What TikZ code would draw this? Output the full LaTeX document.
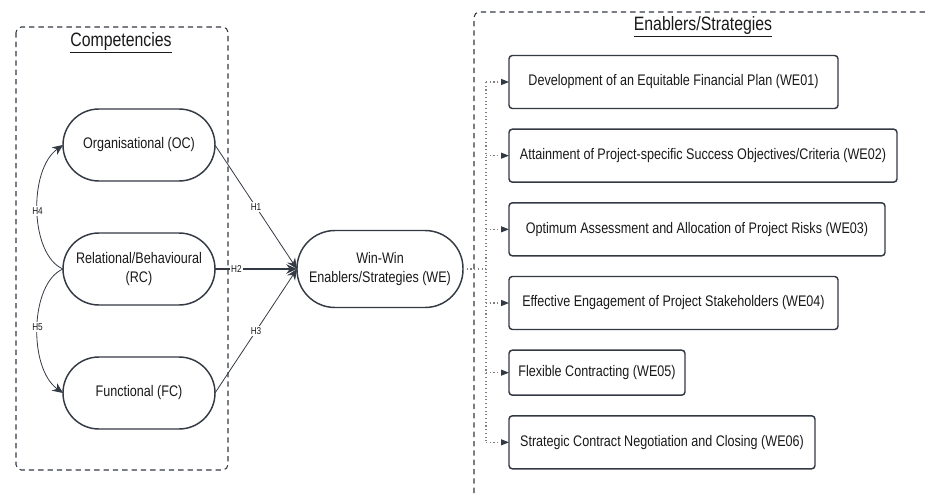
\documentclass[tikz,border=0pt]{standalone}
\usepackage{fontspec}
\setmainfont{Liberation Sans}[FakeStretch=0.82]
\usetikzlibrary{positioning,arrows.meta}
\definecolor{edgegray}{RGB}{52,58,68}
\definecolor{dotgray}{RGB}{128,128,128}
\tikzset{comp/.style={draw=edgegray,line width=1.1pt,outer sep=0pt,rounded corners=27pt,minimum width=114pt,minimum height=54pt,align=center,text=black!90,font=\fontsize{11.5}{14}\selectfont},
	 wenode/.style={comp,rounded corners=28.5pt,minimum width=124.5pt,minimum height=57.75pt},
	 wbox/.style={draw=edgegray,line width=1.1pt,outer sep=0pt,rounded corners=2.5pt,minimum height=39.75pt,text=black!90,font=\fontsize{11.5}{14}\selectfont},
	 title/.style={text=black!90,font=\fontsize{14.5}{17}\selectfont},
	 grp/.style={draw=edgegray,line width=0.8pt,dash pattern=on 4pt off 3pt,rounded corners=4pt},
	 hyp/.style={draw=edgegray,line width=0.6pt,-{Stealth[length=8pt,width=7pt]}},
	 hlab/.style={fill=white,inner sep=1pt,text=black!90,font=\fontsize{7.5}{8}\selectfont},
	 feed/.style={draw=dotgray,dotted,line width=0.8pt},
	 node distance = 39pt
	 }
\begin{document}
\begin{tikzpicture}[x=0.75pt,y=-0.75pt]
	\useasboundingbox (0,0) rectangle (925,493);
	% groups
	\draw[grp] (16,27) rectangle (228,470);
	\draw[grp] (474,493) -- (474,12) -- (925,12);
	\node[title] (comptitle) at (121,43) {\underline{Competencies}};
	\node[title] (enabtitle) at (703,27) {\underline{Enablers/Strategies}};
	% competencies
	\node[comp] (oc) at (139,145) {Organisational (OC)};
	\node[comp] (rc) [below=of oc] {Relational/Behavioural\\(RC)};
	\node[comp] (fc) [below=of rc] {Functional (FC)};
	\node[wenode] (we) [right=61.5pt of rc] {Win-Win\\Enablers/Strategies (WE)};
	% enablers
	\node[wbox,minimum width=246.75pt,anchor=west] (we1) at (509,82) {Development of an Equitable Financial Plan (WE01)};
	\node[wbox,minimum width=291pt] (we2) [below=15.5pt of we1.south west,anchor=north west] {Attainment of Project-specific Success Objectives/Criteria (WE02)};
	\node[wbox,minimum width=282pt] (we3) [below=15.5pt of we2.south west,anchor=north west] {Optimum Assessment and Allocation of Project Risks (WE03)};
	\node[wbox,minimum width=246.75pt] (we4) [below=15.5pt of we3.south west,anchor=north west] {Effective Engagement of Project Stakeholders (WE04)};
	\node[wbox,minimum width=132pt,minimum height=33.75pt] (we5) [below=15.5pt of we4.south west,anchor=north west] {Flexible Contracting (WE05)};
	\node[wbox,minimum width=229.5pt] (we6) [below=15.5pt of we5.south west,anchor=north west] {Strategic Contract Negotiation and Closing (WE06)};
	% hypotheses
	\draw[hyp] (oc.east) -- node[hlab] {H1} (we.west);
	\draw[hyp,line width=1.4pt] (rc.east) -- node[hlab,pos=0.26] {H2} (we.west);
	\draw[hyp] (fc.east) -- node[hlab] {H3} (we.west);
	\draw[hyp] (rc.west) .. controls (30,255) and (28,170) .. node[hlab] {H4} (oc.west);
	\draw[hyp] (rc.west) .. controls (30,283) and (28,368) .. node[hlab] {H5} (fc.west);
	% links to enablers
	\coordinate (jn) at ([xshift=17.25pt]we.east);
	\draw[feed] (we.east) to (jn);
	\draw[feed] (jn |- we1.west) to (jn |- we6.west);
	\foreach \i in {1,...,6}
	  \draw[feed,-{Triangle[length=6pt,width=4.5pt,color=edgegray]}] (jn |- we\i.west) to (we\i.west);
\end{tikzpicture}
\end{document}
